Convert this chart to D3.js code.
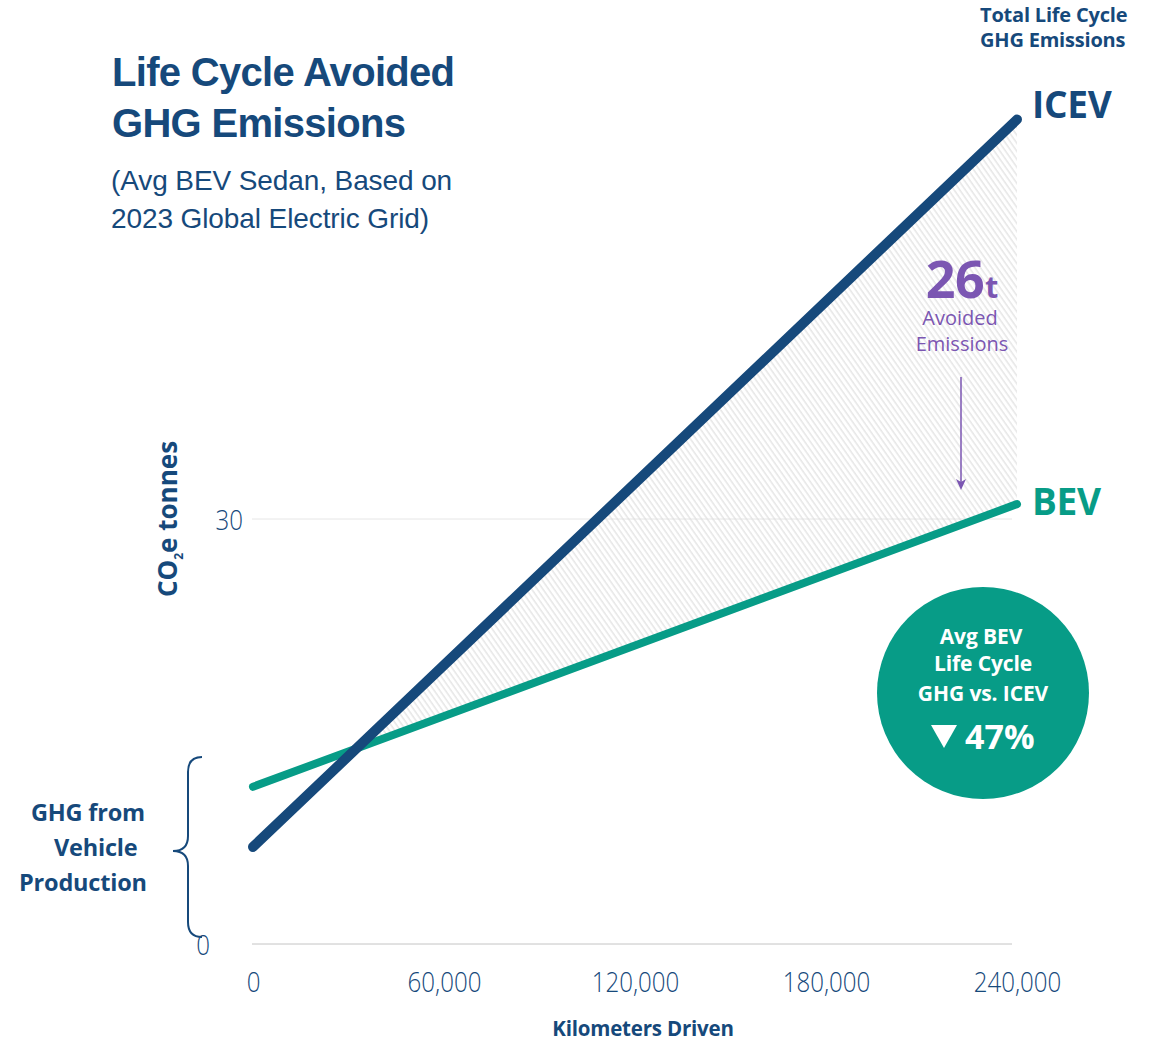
<!DOCTYPE html>
<html>
<head>
<meta charset="utf-8">
<script src="https://cdn.jsdelivr.net/npm/d3@7"></script>
<style>
  html, body { margin: 0; padding: 0; background: #ffffff; }
  svg { display: block; }
</style>
</head>
<body>
<div id="chart"></div>
<script>
// ---- data ----
const kmDriven = [0, 240000];
const icevTonnes = [6.85, 58.2];
const bevTonnes = [11.1, 31.05];
const xTicks = [0, 60000, 120000, 180000, 240000];
const yTicks = [0, 30];
const avoidedLabel = "26";
const reductionLabel = "47%";

// ---- layout ----
const W = 1150, H = 1042;
const navy = "#16497b", teal = "#079c87", purple = "#7b56b2";
const svg = d3.select("#chart").append("svg").attr("width", W).attr("height", H);

const x = d3.scaleLinear().domain([0, 240000]).range([253, 1017]);
const y = d3.scaleLinear().domain([0, 30]).range([944, 519]);

// hatch pattern
const defs = svg.append("defs");
const pat = defs.append("pattern").attr("id", "hatch").attr("patternUnits", "userSpaceOnUse")
  .attr("width", 4.6).attr("height", 10).attr("patternTransform", "rotate(-35)");
pat.append("line").attr("x1", 1).attr("y1", 0).attr("x2", 1).attr("y2", 10)
  .attr("stroke", "#d9d9d9").attr("stroke-width", 1);

// gridlines
svg.append("g").selectAll("line").data(yTicks).join("line")
  .attr("x1", 252).attr("x2", 1012)
  .attr("y1", d => y(d)).attr("y2", d => y(d))
  .attr("stroke", d => d === 0 ? "#c4c4c4" : "#e6e6e6").attr("stroke-width", 1);

// hatched avoided area between crossing and end
const icevSlope = (icevTonnes[1] - icevTonnes[0]) / (kmDriven[1] - kmDriven[0]);
const bevSlope = (bevTonnes[1] - bevTonnes[0]) / (kmDriven[1] - kmDriven[0]);
const crossKm = (bevTonnes[0] - icevTonnes[0]) / (icevSlope - bevSlope);
const areaPts = [
  { km: crossKm, lo: bevTonnes[0] + bevSlope * crossKm, hi: icevTonnes[0] + icevSlope * crossKm },
  { km: kmDriven[1], lo: bevTonnes[1], hi: icevTonnes[1] }
];
svg.append("path").datum(areaPts)
  .attr("d", d3.area().x(d => x(d.km)).y0(d => y(d.lo)).y1(d => y(d.hi)))
  .attr("fill", "url(#hatch)");

// lines
const lineGen = d3.line().x(d => x(d[0])).y(d => y(d[1]));
svg.append("path").datum(kmDriven.map((k, i) => [k, bevTonnes[i]]))
  .attr("d", lineGen).attr("fill", "none").attr("stroke", teal)
  .attr("stroke-width", 8).attr("stroke-linecap", "round");
svg.append("path").datum(kmDriven.map((k, i) => [k, icevTonnes[i]]))
  .attr("d", lineGen).attr("fill", "none").attr("stroke", navy)
  .attr("stroke-width", 10).attr("stroke-linecap", "round");

// axes
const fmt = d3.format(",");
const xAxis = svg.append("g").attr("transform", "translate(0,944)")
  .call(d3.axisBottom(x).tickValues(xTicks).tickFormat(d => fmt(d)).tickSize(0).tickPadding(28));
xAxis.select(".domain").remove();
const yAxis = svg.append("g").attr("transform", "translate(243,0)")
  .call(d3.axisLeft(y).tickValues(yTicks).tickSize(0).tickPadding(0));
yAxis.select(".domain").remove();
yAxis.selectAll("text").attr("dy", "0.36em");
svg.selectAll(".tick text")
  .attr("font-family", "'Open Sans', sans-serif").attr("font-weight", 300)
  .attr("font-size", 28).attr("fill", navy)
  .each(function() {
    const len = this.getComputedTextLength();
    d3.select(this).attr("textLength", len * 0.86).attr("lengthAdjust", "spacingAndGlyphs");
  });
yAxis.select(".tick:first-of-type text").attr("x", -33);

// axis titles
svg.append("text").attr("x", 643).attr("y", 1036).attr("text-anchor", "middle")
  .attr("font-family", "'Open Sans', sans-serif").attr("font-weight", 700)
  .attr("font-size", 20.5).attr("fill", navy).attr("letter-spacing", -0.2).text("Kilometers Driven");
const yt = svg.append("text").attr("transform", "translate(177,519) rotate(-90)")
  .attr("text-anchor", "middle")
  .attr("font-family", "'Open Sans', sans-serif").attr("font-weight", 700)
  .attr("font-size", 26).attr("fill", navy);
yt.append("tspan").text("CO");
yt.append("tspan").attr("font-size", 12).attr("dy", 6).text("2");
yt.append("tspan").attr("dy", -6).text("e tonnes");

// title
const title = svg.append("text").attr("font-family", "'Liberation Sans', Arial, sans-serif")
  .attr("font-weight", 700).attr("font-size", 40).attr("fill", navy).attr("letter-spacing", -0.7);
title.append("tspan").attr("x", 112).attr("y", 86).text("Life Cycle Avoided");
title.append("tspan").attr("x", 112).attr("y", 137).text("GHG Emissions");
const sub = svg.append("text").attr("font-family", "'Liberation Sans', Arial, sans-serif")
  .attr("font-size", 28).attr("fill", navy).attr("letter-spacing", -0.1);
sub.append("tspan").attr("x", 111).attr("y", 190).text("(Avg BEV Sedan, Based on");
sub.append("tspan").attr("x", 111).attr("y", 228).text("2023 Global Electric Grid)");

// top-right label
const tr = svg.append("text").attr("font-family", "'Open Sans', sans-serif")
  .attr("font-weight", 700).attr("font-size", 20).attr("fill", navy).attr("letter-spacing", -0.2);
tr.append("tspan").attr("x", 980).attr("y", 22).text("Total Life Cycle");
tr.append("tspan").attr("x", 980).attr("y", 47).text("GHG Emissions");

// series labels
svg.append("text").attr("x", 1032).attr("y", 118)
  .attr("font-family", "'Open Sans', sans-serif").attr("font-weight", 700)
  .attr("font-size", 37).attr("fill", navy).attr("letter-spacing", -0.3).text("ICEV");
svg.append("text").attr("x", 1032).attr("y", 515)
  .attr("font-family", "'Open Sans', sans-serif").attr("font-weight", 700)
  .attr("font-size", 37).attr("fill", teal).attr("letter-spacing", -0.3).text("BEV");

// avoided annotation
const av = svg.append("text").attr("x", 962).attr("y", 298).attr("text-anchor", "middle")
  .attr("font-family", "'Open Sans', sans-serif").attr("font-weight", 700).attr("fill", purple);
av.append("tspan").attr("font-size", 52).attr("letter-spacing", -0.5).text(avoidedLabel);
av.append("tspan").attr("font-size", 30).attr("dx", 1).text("t");
const av2 = svg.append("text").attr("text-anchor", "middle")
  .attr("font-family", "'Open Sans', sans-serif").attr("font-size", 20).attr("fill", purple);
av2.append("tspan").attr("x", 960).attr("y", 325).text("Avoided");
av2.append("tspan").attr("x", 962).attr("y", 351).text("Emissions");
svg.append("line").attr("x1", 961).attr("x2", 961).attr("y1", 377).attr("y2", 484)
  .attr("stroke", purple).attr("stroke-width", 1.5);
svg.append("path").attr("d", "M956,479 L961,490 L966,479 L961,482 Z").attr("fill", purple);

// circle callout
svg.append("circle").attr("cx", 983).attr("cy", 693).attr("r", 106).attr("fill", teal);
const ct = svg.append("text").attr("text-anchor", "middle")
  .attr("font-family", "'Open Sans', sans-serif").attr("font-weight", 700)
  .attr("font-size", 21).attr("fill", "#ffffff").attr("letter-spacing", -0.1);
ct.append("tspan").attr("x", 981).attr("y", 644).text("Avg BEV");
ct.append("tspan").attr("x", 983).attr("y", 671).text("Life Cycle");
ct.append("tspan").attr("x", 983).attr("y", 701).text("GHG vs. ICEV");
svg.append("path").attr("d", "M931,725 L957,725 L944,748 Z").attr("fill", "#ffffff");
svg.append("text").attr("x", 965).attr("y", 749)
  .attr("font-family", "'Open Sans', sans-serif").attr("font-weight", 700)
  .attr("font-size", 34).attr("fill", "#ffffff").text(reductionLabel);

// brace and production label
svg.append("path")
  .attr("d", "M202,757 Q188,757 188,772 L188,836 Q188,851 173,851 Q188,851 188,866 L188,922 Q188,937 202,937")
  .attr("fill", "none").attr("stroke", navy).attr("stroke-width", 2);
const gp = svg.append("text").attr("font-family", "'Open Sans', sans-serif")
  .attr("font-weight", 700).attr("font-size", 23.5).attr("fill", navy).attr("letter-spacing", -0.2);
gp.append("tspan").attr("x", 31).attr("y", 821).text("GHG from");
gp.append("tspan").attr("x", 54).attr("y", 856).text("Vehicle");
gp.append("tspan").attr("x", 19).attr("y", 891).text("Production");
</script>
</body>
</html>
